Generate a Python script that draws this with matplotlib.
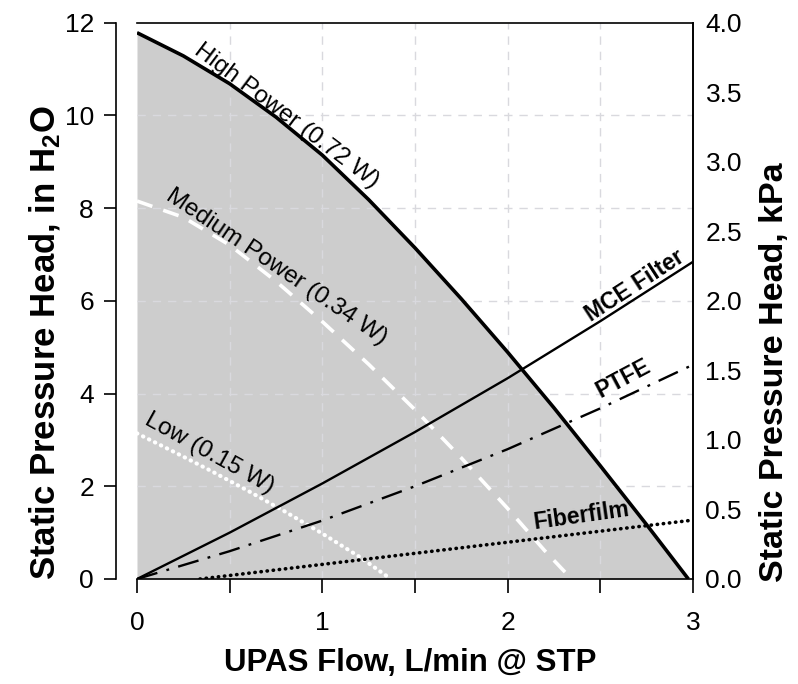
import matplotlib
matplotlib.use("Agg")
import matplotlib.pyplot as plt

plt.rcParams['font.family'] = ['Liberation Sans', 'DejaVu Sans']
plt.rcParams['mathtext.default'] = 'regular'

# ---- data ----
flow_high = [0, 0.25, 0.5, 0.75, 1.0, 1.25, 1.5, 1.75, 2.0, 2.25, 2.5, 2.75, 2.975]
p_high = [11.78, 11.28, 10.68, 9.96, 9.14, 8.18, 7.14, 6.04, 4.89, 3.69, 2.44, 1.17, 0.0]

flow_med = [0, 0.25, 0.5, 0.75, 1.0, 1.25, 1.5, 1.75, 2.0, 2.2, 2.345]
p_med = [8.15, 7.80, 7.20, 6.42, 5.55, 4.63, 3.65, 2.61, 1.52, 0.61, 0.0]

flow_low = [0, 0.2, 0.4, 0.6, 0.8, 1.0, 1.2, 1.37]
p_low = [3.14, 2.74, 2.33, 1.90, 1.45, 0.98, 0.48, 0.0]

flow_filter = [0, 0.5, 1.0, 1.5, 2.0, 2.5, 3.0]
p_mce = [0, 1.0, 2.06, 3.17, 4.33, 5.56, 6.84]
p_ptfe = [0, 0.60, 1.26, 2.00, 2.80, 3.68, 4.62]

flow_fiber = [0.34, 3.0]
p_fiber = [0, 1.27]

x_ticks = [0, 0.5, 1, 1.5, 2, 2.5, 3]
x_ticklabels = ['0', '', '1', '', '2', '', '3']
y_ticks = [0, 2, 4, 6, 8, 10, 12]
kpa_ticks = [0, 0.5, 1.0, 1.5, 2.0, 2.5, 3.0, 3.5, 4.0]

# ---- figure ----
fig = plt.figure(figsize=(7.98, 6.84), dpi=100)
ax = fig.add_axes([137/798, 1-579/684, (693-137)/798, (579-22.5)/684])

ax.fill_between(flow_high, p_high, 0, color='#cdcdcd', lw=0, zorder=1)
for xv in [0.5, 1, 1.5, 2, 2.5]:
    ax.axvline(xv, color='#d9d9de', lw=1.0, ls=(0, (6, 5)), zorder=1.5)
for yv in [2, 4, 6, 8, 10]:
    ax.axhline(yv, color='#d9d9de', lw=1.0, ls=(0, (6, 5)), zorder=1.5)

ax.plot(flow_high, p_high, color='black', lw=2.6, zorder=4, solid_capstyle='butt')
ax.plot(flow_med, p_med, color='white', lw=2.6, ls=(0, (4.5, 3.2)), zorder=3)
ax.plot(flow_low, p_low, color='white', lw=3.0, ls=(0, (0.1, 1.5)),
        dash_capstyle='round', zorder=3)
ax.plot(flow_filter, p_mce, color='black', lw=1.7, zorder=3)
ax.plot(flow_filter, p_ptfe, color='black', lw=1.7, ls=(0, (9, 4, 1.2, 4)), zorder=3)
ax.plot(flow_fiber, p_fiber, color='black', lw=2.6, ls=(0, (0.1, 1.6)),
        dash_capstyle='round', zorder=3)

ax.set_xlim(0, 3)
ax.set_ylim(0, 12)
ax.set_xticks(x_ticks)
ax.set_xticklabels(x_ticklabels)
ax.set_yticks(y_ticks)
ax.tick_params(axis='x', direction='out', length=10, width=1.2, pad=13, labelsize=19)
ax.tick_params(axis='y', direction='out', length=9, width=1.2, pad=7, labelsize=19)

ax.spines['left'].set_position(('outward', 15))
for s in ['left', 'bottom', 'top', 'right']:
    ax.spines[s].set_linewidth(1.2)

ax.set_xlabel('UPAS Flow, L/min @ STP', fontsize=22.5, fontweight='bold')
ax.xaxis.set_label_coords(0.491, -0.124)
ax.set_ylabel('Static Pressure Head, in H$_2$O', fontsize=25, fontweight='bold',
              va='center')
ax.yaxis.set_label_coords(-0.165, 0.425)

ax2 = ax.twinx()
ax2.set_ylim(0, 4)
ax2.set_yticks(kpa_ticks)
ax2.set_yticklabels(['%.1f' % v for v in kpa_ticks])
ax2.tick_params(axis='y', length=0, pad=9, labelsize=19)
ax2.spines['left'].set_visible(False)
ax2.spines['top'].set_visible(False)
ax2.spines['bottom'].set_visible(False)
ax2.spines['right'].set_linewidth(1.2)
ax2.set_ylabel('Static Pressure Head, kPa', fontsize=24.5, fontweight='bold',
               va='center', rotation=90)
ax2.yaxis.set_label_coords(1.147, 0.372)

# ---- annotations ----
ax.text(0.807, 9.98, 'High Power (0.72 W)', rotation=-37, fontsize=17.5,
        ha='center', va='center', rotation_mode='anchor', zorder=5)
ax.text(0.75, 6.72, 'Medium Power (0.34 W)', rotation=-34, fontsize=17.5,
        ha='center', va='center', rotation_mode='anchor', zorder=5)
ax.text(0.39, 2.70, 'Low (0.15 W)', rotation=-29, fontsize=17.5,
        ha='center', va='center', rotation_mode='anchor', zorder=5)
ax.text(2.687, 6.32, 'MCE Filter', rotation=33, fontsize=16.5, fontweight='bold',
        ha='center', va='center', rotation_mode='anchor', zorder=5)
ax.text(2.623, 4.33, 'PTFE', rotation=28, fontsize=16.5, fontweight='bold',
        ha='center', va='center', rotation_mode='anchor', zorder=5)
ax.text(2.40, 1.36, 'Fiberfilm', rotation=8, fontsize=16.5, fontweight='bold',
        ha='center', va='center', rotation_mode='anchor', zorder=5)

fig.savefig('out.png', dpi=100)
